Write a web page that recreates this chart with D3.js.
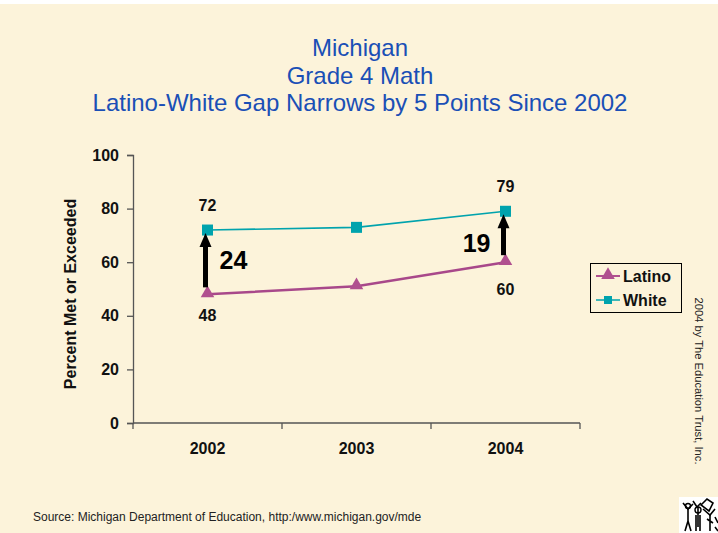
<!DOCTYPE html>
<html><head><meta charset="utf-8">
<script src="https://cdn.jsdelivr.net/npm/d3@7"></script>
<style>body{margin:0;background:#fff}svg{display:block}text{font-family:"Liberation Sans",Arial,sans-serif}</style>
</head><body>
<script>
const years = ["2002","2003","2004"];
const latino = [48, 51, 60];
const white = [72, 73, 79];
const yTicks = [0,20,40,60,80,100];
const gapLabels = [{year:"2002", gap:"24"},{year:"2004", gap:"19"}];
const titleLines = ["Michigan","Grade 4 Math","Latino-White Gap Narrows by 5 Points Since 2002"];

const W=718,H=533;
const svg=d3.select("body").append("svg").attr("width",W).attr("height",H);
svg.append("rect").attr("x",0).attr("y",4).attr("width",W).attr("height",H-4).attr("fill","#fcf3da");

const x=d3.scaleBand().domain(years).range([133,580]).padding(0);
const y=d3.scaleLinear().domain([0,100]).range([423,155]);
const cx=d=>x(d)+x.bandwidth()/2;

// title
svg.append("g").selectAll("text").data(titleLines).join("text")
 .attr("x",360).attr("y",(d,i)=>56+i*27.5).attr("text-anchor","middle")
 .attr("font-size",24).attr("fill","#1a4fb6").text(d=>d);

// axes
const ya=svg.append("g").attr("transform","translate(133,0)")
 .call(d3.axisLeft(y).tickValues(yTicks).tickSize(6).tickPadding(8));
ya.select(".domain").attr("stroke","#555").attr("stroke-width",1.3);
ya.selectAll(".tick line").attr("stroke","#555").attr("stroke-width",1.3);
ya.selectAll("text").attr("font-size",16).attr("font-weight","bold").attr("fill","#111").attr("font-family","Liberation Sans,Arial");

const xa=svg.append("g").attr("transform","translate(0,423)");
xa.append("line").attr("x1",133).attr("x2",580).attr("stroke","#555").attr("stroke-width",1.3);
xa.selectAll("line.t").data(years.map(d=>x(d)).concat([580])).join("line").attr("class","t")
 .attr("x1",d=>d).attr("x2",d=>d).attr("y1",0).attr("y2",6).attr("stroke","#555").attr("stroke-width",1.3);
xa.selectAll("text").data(years).join("text").attr("x",d=>cx(d)).attr("y",31)
 .attr("text-anchor","middle").attr("font-size",16).attr("font-weight","bold").attr("fill","#111").text(d=>d);

svg.append("text").attr("transform","translate(76,294) rotate(-90)").attr("text-anchor","middle")
 .attr("font-size",16).attr("font-weight","bold").attr("fill","#111").text("Percent Met or Exceeded");

// lines
const line=d3.line().x((d,i)=>cx(years[i])).y(d=>y(d));
svg.append("path").datum(latino).attr("d",line).attr("fill","none").attr("stroke","#a8488a").attr("stroke-width",2.5);
svg.append("path").datum(white).attr("d",line).attr("fill","none").attr("stroke","#00a3ad").attr("stroke-width",1.6);
const tri=d3.symbol().type(d3.symbolTriangle).size(80);
svg.selectAll("path.lt").data(latino).join("path").attr("class","lt").attr("d",tri)
 .attr("transform",(d,i)=>`translate(${cx(years[i])},${y(d)-1})`).attr("fill","#b0508f");
svg.selectAll("rect.wt").data(white).join("rect").attr("class","wt")
 .attr("x",(d,i)=>cx(years[i])-5.5).attr("y",d=>y(d)-5.5).attr("width",11).attr("height",11).attr("fill","#00a3ad");

// arrows
gapLabels.forEach((g,k)=>{
  const i=years.indexOf(g.year);
  const ax=cx(g.year)-2;
  const y0=y(latino[i])-7, y1=y(white[i])+3;
  svg.append("line").attr("x1",ax).attr("x2",ax).attr("y1",y0).attr("y2",y1+12).attr("stroke","#000").attr("stroke-width",5);
  svg.append("path").attr("d",`M${ax},${y1} L${ax-6},${y1+14} L${ax+6},${y1+14} Z`).attr("fill","#000");
  svg.append("text").attr("x",k===0?ax+14:ax-13).attr("y",(y0+y1)/2+(k===0?9:17)).attr("text-anchor",k===0?"start":"end")
   .attr("font-size",25).attr("font-weight","bold").attr("fill","#000").text(g.gap);
});

// data labels
[0,2].forEach(i=>{
  svg.append("text").attr("x",cx(years[i])).attr("y",y(white[i])-19).attr("text-anchor","middle")
   .attr("font-size",16).attr("font-weight","bold").attr("fill","#111").text(white[i]);
  svg.append("text").attr("x",cx(years[i])).attr("y",y(latino[i])+(i===0?27:33)).attr("text-anchor","middle")
   .attr("font-size",16).attr("font-weight","bold").attr("fill","#111").text(latino[i]);
});

// legend
const lg=svg.append("g");
lg.append("rect").attr("x",590.5).attr("y",263.5).attr("width",91).attr("height",49).attr("fill","none").attr("stroke","#000").attr("stroke-width",1);
[{n:"Latino",c:"#b0508f",t:"tri",yy:276},{n:"White",c:"#00a3ad",t:"sq",yy:300}].forEach(e=>{
  lg.append("line").attr("x1",596).attr("x2",620).attr("y1",e.yy).attr("y2",e.yy).attr("stroke",e.c).attr("stroke-width",e.t==="tri"?2:1.5);
  if(e.t==="tri") lg.append("path").attr("d",tri).attr("transform",`translate(608,${e.yy-1})`).attr("fill",e.c);
  else lg.append("rect").attr("x",604).attr("y",e.yy-4).attr("width",8).attr("height",8).attr("fill",e.c);
  lg.append("text").attr("x",623).attr("y",e.yy+6).attr("font-size",16).attr("font-weight","bold").attr("fill","#111").text(e.n);
});

svg.append("text").attr("transform","translate(695,381) rotate(90)").attr("text-anchor","middle")
 .attr("font-size",11.2).attr("fill","#222").text("2004 by The Education Trust, Inc.");
svg.append("text").attr("x",33).attr("y",521).attr("font-size",12).attr("fill","#222")
 .text("Source: Michigan Department of Education, http:/www.michigan.gov/mde");

// logo
const lo=svg.append("g").attr("transform","translate(679,497)");
lo.append("rect").attr("width",39).attr("height",36).attr("fill","#fff");
const st={fill:"none",stroke:"#000","stroke-width":1.6};
const paths=["M4,6 L9,12 L14,7","M9,12 L9,24","M9,24 L6,34 M9,24 L12,34","M14,4 L18,10 L22,6","M19,10 L19,30 M17,18 L17,34 M21,18 L21,34",
 "M22,8 L28,2 L34,6 L30,14 Z","M24,12 L31,18 L36,12","M31,18 L31,34 M28,22 L34,26","M36,20 L39,26 M36,30 L39,34"];
paths.forEach(p=>{const e=lo.append("path").attr("d",p);Object.entries(st).forEach(([k,v])=>e.attr(k,v));});
lo.append("circle").attr("cx",9).attr("cy",9).attr("r",2.5).attr("fill","none").attr("stroke","#000").attr("stroke-width",1.4);
lo.append("circle").attr("cx",19).attr("cy",13).attr("r",3).attr("fill","none").attr("stroke","#000").attr("stroke-width",1.4);
</script>
</body></html>
